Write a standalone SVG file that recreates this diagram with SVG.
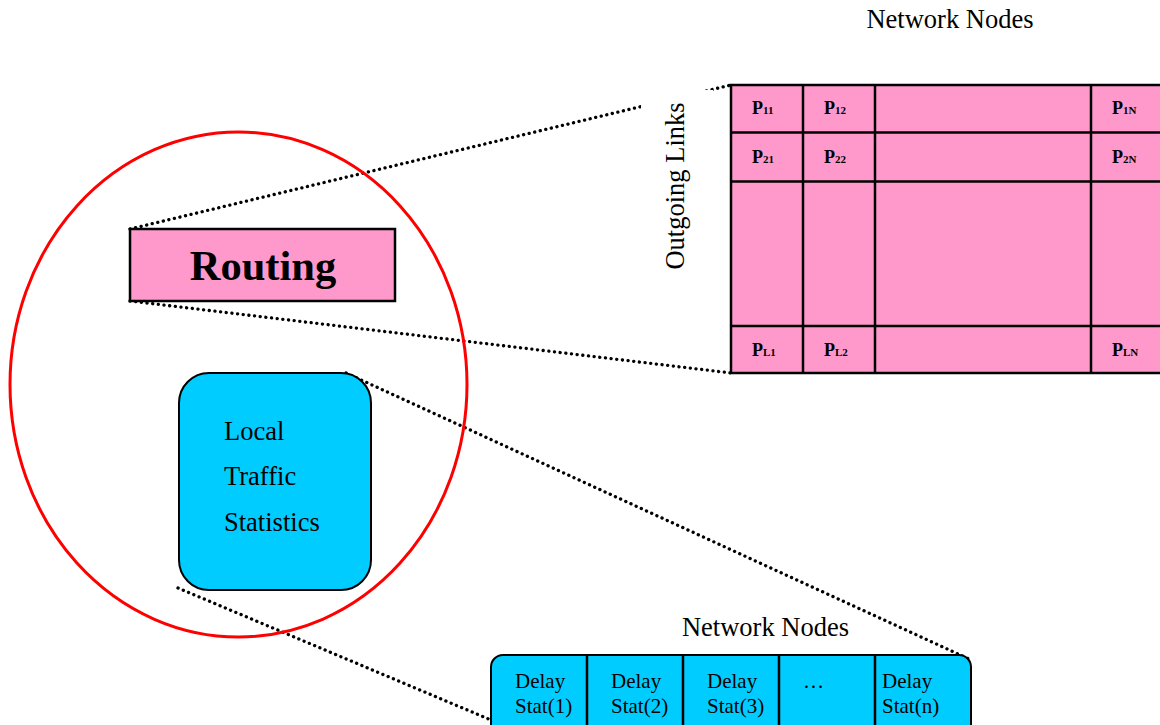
<svg xmlns="http://www.w3.org/2000/svg" width="1160" height="725" viewBox="0 0 1160 725">
<style>
.t{font-family:"Liberation Serif","Times New Roman",serif;fill:#000}
.dot{fill:none;stroke:#000;stroke-width:3.3;stroke-linecap:round;stroke-dasharray:0.1 5.6}
.ln{stroke:#000;stroke-width:2.5}
.pk{fill:#FF99CC;stroke:#000;stroke-width:2.5}
.p{font-family:"Liberation Serif","Times New Roman",serif;font-weight:bold;font-size:18px}
.s{font-size:11px}
.d{font-family:"Liberation Serif","Times New Roman",serif;font-size:21px}
</style>
<rect width="1160" height="725" fill="#fff"/>
<g id="connectors">
<line class="dot" x1="130" y1="229" x2="731" y2="85"/>
<line class="dot" x1="130" y1="301" x2="731" y2="373"/>
<line class="dot" x1="346" y1="373" x2="969" y2="659"/>
<line class="dot" x1="178" y1="588" x2="491" y2="720"/>
</g>
<g id="outgoing-label">
<rect x="641" y="90" width="72" height="186" fill="#fff"/>
<text class="t" font-size="26.5" transform="translate(684,186) rotate(-90)" text-anchor="middle">Outgoing Links</text>
</g>
<g id="scope">
<ellipse cx="238.5" cy="384.5" rx="228.5" ry="252.5" fill="none" stroke="#FF0000" stroke-width="3"/>
</g>
<g id="routing">
<rect x="130" y="229" width="265" height="72" class="pk" stroke-width="2"/>
<text class="t" x="263" y="280" font-size="42.5" font-weight="bold" text-anchor="middle">Routing</text>
</g>
<g id="local-stats">
<rect x="179" y="373" width="192" height="217" rx="30" fill="#00CCFF" stroke="#000" stroke-width="2"/>
<text class="t" x="224" y="440" font-size="26.5">Local</text>
<text class="t" x="224" y="485" font-size="26.5">Traffic</text>
<text class="t" x="224" y="531" font-size="26.5">Statistics</text>
</g>
<g id="routing-table">
<rect x="731" y="85" width="440" height="288" class="pk"/>
<line class="ln" x1="731" y1="132.5" x2="1160" y2="132.5"/>
<line class="ln" x1="731" y1="181.5" x2="1160" y2="181.5"/>
<line class="ln" x1="731" y1="326" x2="1160" y2="326"/>
<line class="ln" x1="803" y1="85" x2="803" y2="373"/>
<line class="ln" x1="875" y1="85" x2="875" y2="373"/>
<line class="ln" x1="1091" y1="85" x2="1091" y2="373"/>
<text class="p" x="752" y="114">P<tspan class="s">11</tspan></text>
<text class="p" x="824" y="114">P<tspan class="s">12</tspan></text>
<text class="p" x="1112" y="114">P<tspan class="s">1N</tspan></text>
<text class="p" x="752" y="163">P<tspan class="s">21</tspan></text>
<text class="p" x="824" y="163">P<tspan class="s">22</tspan></text>
<text class="p" x="1112" y="163">P<tspan class="s">2N</tspan></text>
<text class="p" x="752" y="356">P<tspan class="s">L1</tspan></text>
<text class="p" x="824" y="356">P<tspan class="s">L2</tspan></text>
<text class="p" x="1112" y="356">P<tspan class="s">LN</tspan></text>
</g>
<g id="top-title">
<text class="t" x="950" y="27.5" font-size="26.5" text-anchor="middle">Network Nodes</text>
</g>
<g id="bottom-title">
<text class="t" x="765.5" y="636" font-size="26.5" text-anchor="middle">Network Nodes</text>
</g>
<g id="delay-stats">
<rect x="491" y="655" width="480" height="82" rx="12" fill="#00CCFF" stroke="#000" stroke-width="2"/>
<line class="ln" x1="587" y1="655" x2="587" y2="725" stroke-width="2"/>
<line class="ln" x1="683" y1="655" x2="683" y2="725" stroke-width="2"/>
<line class="ln" x1="779" y1="655" x2="779" y2="725" stroke-width="2"/>
<line class="ln" x1="875" y1="655" x2="875" y2="725" stroke-width="2"/>
<text class="d" x="515" y="688">Delay</text>
<text class="d" x="515" y="713">Stat(1)</text>
<text class="d" x="611" y="688">Delay</text>
<text class="d" x="611" y="713">Stat(2)</text>
<text class="d" x="707" y="688">Delay</text>
<text class="d" x="707" y="713">Stat(3)</text>
<text class="d" x="803" y="688">…</text>
<text class="d" x="882" y="688">Delay</text>
<text class="d" x="882" y="713">Stat(n)</text>
</g>
</svg>
